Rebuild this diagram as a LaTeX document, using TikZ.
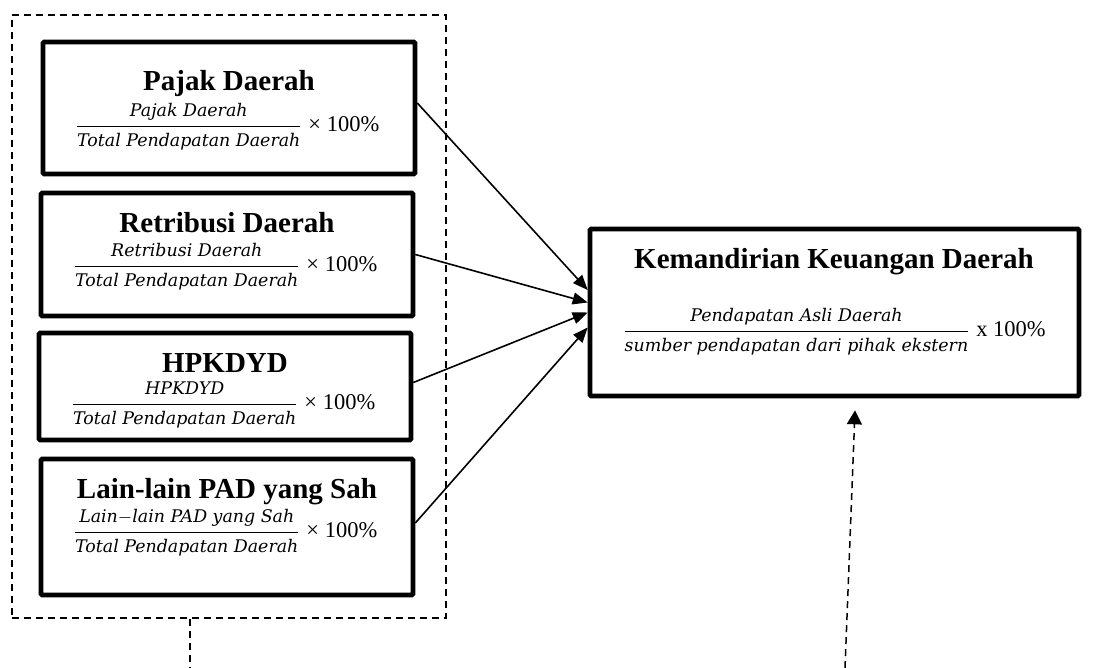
\documentclass[tikz,border=0pt]{standalone}
\usepackage{amsmath}
\usepackage{fontspec}
\setmainfont{Liberation Serif}
\newfontfamily\ratiofont{DejaVu Serif}
\usetikzlibrary{arrows.meta}
\newcommand{\ratio}[2]{$\dfrac{\text{\ratiofont\itshape\fontsize{8.7}{10}\selectfont #1}}{\text{\ratiofont\itshape\fontsize{8.7}{10}\selectfont #2}}$}
\begin{document}
\begin{tikzpicture}[x=0.5pt,y=-0.5pt]
\tikzstyle{every node}+=[inner sep=0pt]
\tikzstyle{indbox}=[draw,line width=2.3pt,rounded corners=0.6pt]
\tikzstyle{groupbox}=[draw,line width=0.75pt,dash pattern=on 3.5pt off 2.5pt]
\tikzstyle{boxtitle}=[anchor=base,font=\fontsize{14.5}{16}\selectfont\bfseries]
\tikzstyle{formula}=[anchor=base,font=\fontsize{11.25}{13}\selectfont]
\tikzstyle{link}=[line width=0.8pt,-{Triangle[length=7.5pt,width=6pt]}]
\useasboundingbox (0,0) rectangle (1112,668);
% dashed group of the four PAD components
\node [groupbox,minimum width=217pt,minimum height=301.5pt] (pad) at (229,316.5) {};
\node [indbox,minimum width=186pt,minimum height=66pt] (pajak) at (229,108) {};
\node [indbox,minimum width=186pt,minimum height=61.5pt] (retribusi) at (227,254.5) {};
\node [indbox,minimum width=186pt,minimum height=53.5pt] (hpkdyd) at (225,386.5) {};
\node [indbox,minimum width=186pt,minimum height=68pt] (lainlain) at (227,527) {};
\node [indbox,minimum width=244.5pt,minimum height=83.5pt] (kemandirian) at (834.5,312.5) {};
% texts
\node [boxtitle] (pajakT) at (229,91) {Pajak Daerah};
\node [formula] (pajakF) at (227,131.6) {\ratio{Pajak Daerah}{Total Pendapatan Daerah}~× 100\%};
\node [boxtitle] (retribusiT) at (227,233) {Retribusi Daerah};
\node [formula] (retribusiF) at (225,271.6) {\ratio{Retribusi Daerah}{Total Pendapatan Daerah}~× 100\%};
\node [boxtitle] (hpkdydT) at (225,372) {HPKDYD};
\node [formula] (hpkdydF) at (223,409.6) {\ratio{HPKDYD}{Total Pendapatan Daerah}~× 100\%};
\node [boxtitle] (lainlainT) at (227,498) {Lain-lain PAD yang Sah};
\node [formula] (lainlainF) at (225,537.6) {\ratio{Lain$-$lain PAD yang Sah}{Total Pendapatan Daerah}~× 100\%};
\node [boxtitle] (kemandirianT) at (834,268) {Kemandirian Keuangan Daerah};
\node [formula] (kemandirianF) at (834,336.6) {\ratio{Pendapatan Asli Daerah}{sumber pendapatan dari pihak ekstern}~x 100\%};
% arrows
\draw [link] ([yshift=2.5pt]pajak.east) -- ([yshift=11.25pt]kemandirian.west);
\draw [link] (retribusi.east) -- ([yshift=5pt]kemandirian.west);
\draw [link] ([yshift=2pt]hpkdyd.east) -- (kemandirian.west);
\draw [link] ([yshift=2pt]lainlain.east) -- ([yshift=-7.5pt]kemandirian.west);
% dashed links leaving the bottom edge
\coordinate (padout) at (190,668);
\coordinate (extin) at (845,668);
\draw [groupbox] (padout |- pad.south) -- (padout);
\draw [groupbox,-{Triangle[length=7pt,width=7.5pt]}] (extin) -- ([xshift=10.25pt,yshift=-6pt]kemandirian.south);
\end{tikzpicture}
\end{document}
